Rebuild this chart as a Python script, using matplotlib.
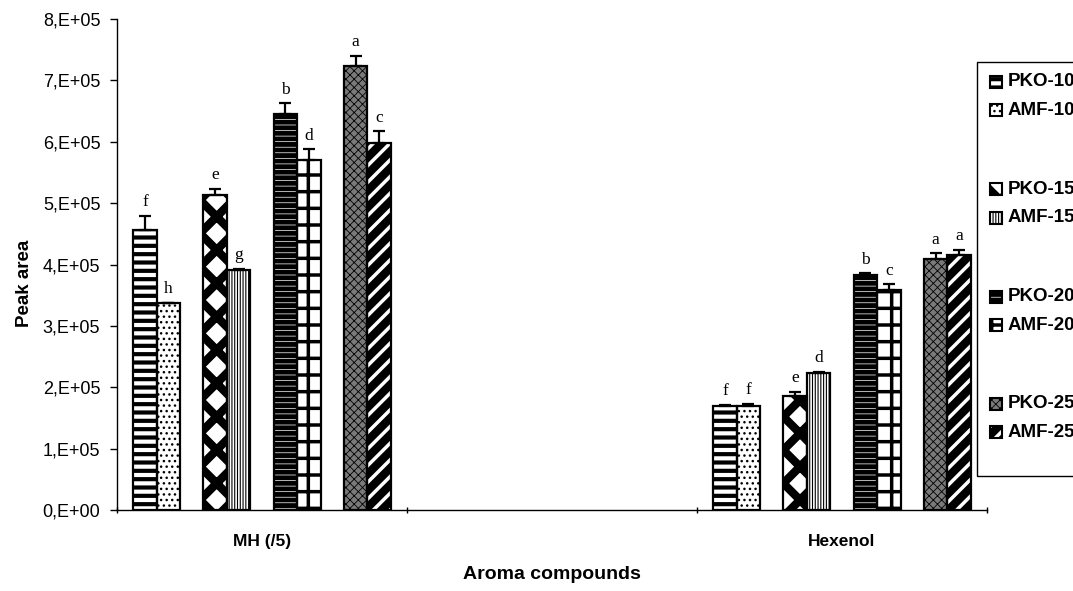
import numpy as np
import matplotlib
matplotlib.use("Agg")
import matplotlib.pyplot as plt
from matplotlib.patches import Rectangle

# peak areas of the two aroma compounds (MH divided by 5)
categories = ["MH (/5)", "", "Hexenol"]
series = ["PKO-10", "AMF-10", "PKO-15", "AMF-15", "PKO-20", "AMF-20", "PKO-25", "AMF-25"]

mh_means = [4.56e5, 3.37e5, 5.13e5, 3.91e5, 6.46e5, 5.70e5, 7.24e5, 5.98e5]
mh_err = [0.23e5, 0.01e5, 0.10e5, 0.02e5, 0.17e5, 0.18e5, 0.16e5, 0.19e5]
mh_letters = ["f", "h", "e", "g", "b", "d", "a", "c"]

hex_means = [1.70e5, 1.69e5, 1.86e5, 2.24e5, 3.83e5, 3.59e5, 4.09e5, 4.16e5]
hex_err = [0.01e5, 0.04e5, 0.07e5, 0.01e5, 0.03e5, 0.09e5, 0.09e5, 0.08e5]
hex_letters = ["f", "f", "e", "d", "b", "c", "a", "a"]

# fill style per series: face, hatch colour, hatch, hatch line width
styles = [
    ("white", "black", "--", 3.0),
    ("white", "black", "...", 1.0),
    ("white", "black", "x", 6.0),
    ("white", "black", "||||||", 0.8),
    ("black", "white", "---", 0.5),
    ("white", "black", "+", 2.5),
    ("#7a7a7a", "black", "xxxx", 0.6),
    ("black", "white", "//", 2.5),
]

SANS = "Liberation Sans"
SERIF = "Liberation Serif"


def hatched_rect(patch, face, hcolor, hatch, hlw):
    patch.set_facecolor(face)
    patch.set_edgecolor(hcolor)
    patch.set_hatch(hatch)
    if hasattr(patch, "set_hatch_linewidth"):
        patch.set_hatch_linewidth(hlw)


fig = plt.figure(figsize=(10.73, 5.91), dpi=100)
ax = fig.add_axes([117 / 1073, 1 - 510 / 591, 870 / 1073, 491 / 591])

xpos = np.array([0, 2])
w = 0.0807
# each pair of bars is followed by an empty slot, 11 slots per category
slots = [0, 1, 3, 4, 6, 7, 9, 10]

for i, name in enumerate(series):
    face, hcol, hatch, hlw = styles[i]
    x = xpos + (slots[i] - 5) * w
    vals = [mh_means[i], hex_means[i]]
    errs = [mh_err[i], hex_err[i]]
    with plt.rc_context({"hatch.linewidth": hlw, "hatch.color": hcol}):
        bars = ax.bar(x, vals, width=w, linewidth=0)
        for b in bars:
            hatched_rect(b, face, hcol, hatch, hlw)
    ax.bar(x, vals, width=w, fill=False, edgecolor="black", linewidth=1.6, zorder=3)
    ax.errorbar(x, vals, yerr=[np.zeros(2), errs], fmt="none", ecolor="black",
                elinewidth=1.6, capsize=4.5, capthick=1.6, zorder=4)
    for xi, v, e, lab in zip(x, vals, errs, [mh_letters[i], hex_letters[i]]):
        ax.annotate(lab, (xi, v + e), xytext=(0, 4), textcoords="offset points",
                    ha="center", va="bottom", fontsize=12.5, family=SERIF)

ax.set_xlim(-0.5, 2.5)
ax.set_ylim(0, 8e5)
ax.set_yticks(np.arange(0, 8.01e5, 1e5))
ax.set_yticklabels([f"{k},E+0{5 if k else 0}" for k in range(9)],
                   fontsize=13, family=SANS)
ax.set_xticks([-0.5, 0.5, 1.5, 2.5])
ax.set_xticklabels([])
ax.set_xticks([0, 1, 2], minor=True)
ax.set_xticklabels(categories, minor=True, fontsize=12.5, fontweight="bold", family=SANS)
ax.tick_params(axis="x", which="minor", length=0, pad=17)
ax.tick_params(axis="x", which="major", length=5, width=1, direction="inout")
ax.tick_params(axis="y", length=5, width=1, pad=7)
for s in ["top", "right"]:
    ax.spines[s].set_visible(False)
for s in ["left", "bottom"]:
    ax.spines[s].set_linewidth(1)

ax.set_xlabel("Aroma compounds", fontsize=14, fontweight="bold", family=SANS)
ax.xaxis.set_label_coords(0.5, -0.114)
ax.set_ylabel("Peak area", fontsize=13.5, fontweight="bold", family=SANS)
ax.yaxis.set_label_coords(-0.097, 0.462)

# legend box on the right, partly outside the canvas
W, H = 1073, 591
fig.patches.append(Rectangle((977 / W, 1 - 476 / H), 110 / W, 414 / H,
                             transform=fig.transFigure, fill=False,
                             edgecolor="black", linewidth=1))
for i, name in enumerate(series):
    yc = 82 + (i // 2) * 107.3 + (i % 2) * 28.5
    face, hcol, hatch, hlw = styles[i]
    r = Rectangle((990 / W, 1 - (yc + 6) / H), 12 / W, 12 / H,
                  transform=fig.transFigure, linewidth=0)
    hatched_rect(r, face, hcol, hatch, hlw)
    fig.patches.append(r)
    fig.patches.append(Rectangle((990 / W, 1 - (yc + 6) / H), 12 / W, 12 / H,
                                 transform=fig.transFigure, fill=False,
                                 edgecolor="black", linewidth=1.5))
    fig.text(1008 / W, 1 - yc / H, name, fontsize=13.5, fontweight="bold",
             family=SANS, va="center", ha="left")

fig.savefig("out.png", dpi=100)
